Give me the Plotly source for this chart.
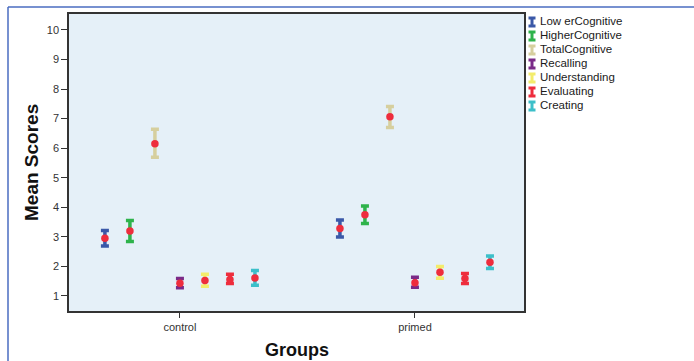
import plotly.graph_objects as go

W, H = 694, 361

groups = ["control", "primed"]
series = ["Low erCognitive", "HigherCognitive", "TotalCognitive", "Recalling",
          "Understanding", "Evaluating", "Creating"]
colors = ["#3a58a8", "#2eb34b", "#d6cf9e", "#7a2a88", "#f3ec6c", "#ee2d3d", "#3cbfc9"]

# means, upper and lower CI bounds per series: [control, primed]
means = [[2.95, 3.28], [3.20, 3.75], [6.15, 7.06], [1.43, 1.45],
         [1.52, 1.80], [1.56, 1.59], [1.61, 2.14]]
uppers = [[3.21, 3.57], [3.55, 4.04], [6.64, 7.41], [1.59, 1.63],
          [1.73, 2.00], [1.73, 1.76], [1.86, 2.35]]
lowers = [[2.69, 2.99], [2.84, 3.45], [5.69, 6.70], [1.28, 1.29],
          [1.33, 1.60], [1.42, 1.42], [1.36, 1.93]]

yticks = [1, 2, 3, 4, 5, 6, 7, 8, 9, 10]

def px_x(p):
    return p / W

def px_y(p):
    return 1 - p / H

fig = go.Figure()

step = 0.1064
for i, name in enumerate(series):
    xs = [g + (i - 3) * step for g in range(len(groups))]
    up = [u - m for u, m in zip(uppers[i], means[i])]
    lo = [m - l for m, l in zip(means[i], lowers[i])]
    fig.add_trace(go.Scatter(
        x=xs, y=means[i], mode="markers", name=name, showlegend=False,
        marker=dict(size=7.5, color="#ee2d3d", line=dict(width=0)),
        error_y=dict(type="data", symmetric=False, array=up, arrayminus=lo,
                     color=colors[i], thickness=3.5, width=4),
        xaxis="x", yaxis="y",
    ))

# legend drawn on a hidden pixel-scaled axis
leg_y = [22 + 14 * i for i in range(len(series))]
for i, name in enumerate(series):
    fig.add_trace(go.Scatter(
        x=[12], y=[leg_y[i]], mode="markers", showlegend=False,
        marker=dict(size=0.1, color="rgba(0,0,0,0)"),
        error_y=dict(type="constant", value=4, color=colors[i], thickness=3, width=3.5),
        xaxis="x2", yaxis="y2", hoverinfo="skip",
    ))
fig.add_trace(go.Scatter(
    x=[20] * len(series), y=leg_y, mode="text", text=series, showlegend=False,
    textposition="middle right",
    textfont=dict(family="Liberation Sans, Arial", size=11.5, color="#1a1a1a"),
    xaxis="x2", yaxis="y2", hoverinfo="skip",
))

fig.update_layout(
    width=W, height=H,
    margin=dict(l=0, r=0, t=0, b=0, autoexpand=False),
    paper_bgcolor="white",
    plot_bgcolor="rgba(0,0,0,0)",
    font=dict(family="Liberation Sans, Arial", size=11, color="#333"),
    xaxis=dict(domain=[px_x(69), px_x(524)], range=[-0.472, 1.464],
               tickmode="array", tickvals=list(range(len(groups))), ticktext=groups,
               ticks="outside", ticklen=5, tickcolor="#333", tickwidth=1,
               showgrid=False, zeroline=False, showline=True, linecolor="#333",
               linewidth=1.5, mirror=True, fixedrange=True, automargin=False,
               tickfont=dict(size=11, color="#333")),
    yaxis=dict(domain=[px_y(311), px_y(14)], range=[0.49, 10.54],
               tickmode="array", tickvals=yticks,
               ticks="outside", ticklen=6, tickcolor="#333", tickwidth=1,
               showgrid=False, zeroline=False, showline=True, linecolor="#333",
               linewidth=1.5, mirror=True, fixedrange=True, automargin=False,
               tickfont=dict(size=11, color="#333")),
    xaxis2=dict(domain=[px_x(520), 1], range=[0, 174], visible=False, fixedrange=True),
    yaxis2=dict(domain=[0, 1], range=[361, 0], visible=False, fixedrange=True),
    shapes=[
        dict(type="rect", xref="paper", yref="paper",
             x0=px_x(69), x1=px_x(524), y0=px_y(311), y1=px_y(14),
             fillcolor="#e5f0f8", line=dict(width=0), layer="below"),
        dict(type="line", xref="paper", yref="paper",
             x0=px_x(8), x1=1.01, y0=px_y(7), y1=px_y(7),
             line=dict(color="#4a6cc0", width=1.5)),
        dict(type="line", xref="paper", yref="paper",
             x0=px_x(8), x1=px_x(8), y0=px_y(7), y1=-0.05,
             line=dict(color="#4a6cc0", width=1.5)),
    ],
    annotations=[
        dict(text="<b>Mean Scores</b>", xref="paper", yref="paper",
             x=px_x(31), y=px_y(163), textangle=-90, showarrow=False,
             font=dict(family="Liberation Sans, Arial", size=19, color="#111"),
             xanchor="center", yanchor="middle"),
        dict(text="<b>Groups</b>", xref="paper", yref="paper",
             x=px_x(297), y=px_y(350), showarrow=False,
             font=dict(family="Liberation Sans, Arial", size=18, color="#111"),
             xanchor="center", yanchor="middle"),
    ],
)

fig.write_html("out.html", config={"displayModeBar": False},
               post_script="document.body.style.margin='0';document.body.style.overflow='hidden';")
